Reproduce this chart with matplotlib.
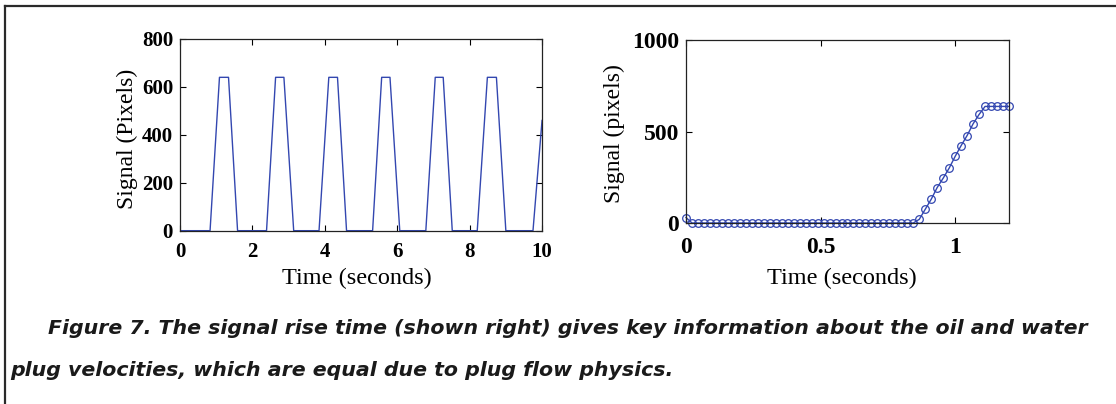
import numpy as np
import matplotlib
matplotlib.use("Agg")
import matplotlib.pyplot as plt
from matplotlib.lines import Line2D

# Left panel: pulse train, breakpoints
pulse_t = [0, 0.83, 1.09, 1.34, 1.59,
           2.39, 2.64, 2.87, 3.14,
           3.84, 4.11, 4.35, 4.60,
           5.32, 5.57, 5.80, 6.07,
           6.79, 7.05, 7.27, 7.52,
           8.21, 8.49, 8.74, 9.00,
           9.75, 10.0]
pulse_v = [0, 0, 640, 640, 0,
           0, 640, 640, 0,
           0, 640, 640, 0,
           0, 640, 640, 0,
           0, 640, 640, 0,
           0, 640, 640, 0,
           0, 460]

# Right panel: one rise, sampled frames
frame_dt = 1 / 45
rise_v = [30] + [0] * 38 + [20, 75, 130, 194, 245, 300, 364, 423, 478, 542, 593] + [637] * 5
rise_t = np.arange(len(rise_v)) * frame_dt

left_xticks = [0, 2, 4, 6, 8, 10]
left_yticks = [0, 200, 400, 600, 800]
right_xticks = [0, 0.5, 1]
right_xticklabels = ["0", "0.5", "1"]
right_yticks = [0, 500, 1000]

caption1 = "Figure 7. The signal rise time (shown right) gives key information about the oil and water"
caption2 = "plug velocities, which are equal due to plug flow physics."

blue = "#3347b0"
serif = "Liberation Serif"

fig = plt.figure(figsize=(11.16, 4.04), dpi=100)

ax1 = fig.add_axes([0.1613, 0.4290, 0.3244, 0.4745])
ax1.plot(pulse_t, pulse_v, color=blue, lw=1.0)
ax1.set_xlim(0, 10)
ax1.set_ylim(0, 800)
ax1.set_xticks(left_xticks)
ax1.set_yticks(left_yticks)
ax1.set_xlabel("Time (seconds)", fontname=serif, fontsize=17.5)
ax1.set_ylabel("Signal (Pixels)", fontname=serif, fontsize=17)
ax1.xaxis.set_label_coords(0.489, -0.195)
ax1.yaxis.set_label_coords(-0.116, 0.481)
ax1.tick_params(labelsize=15)
ax1.tick_params(axis="x", pad=8)
ax1.tick_params(axis="y", pad=5)

ax2 = fig.add_axes([0.6147, 0.4480, 0.2894, 0.4530])
ax2.plot(rise_t, rise_v, color=blue, lw=1.0, marker="o", ms=5.5,
         mfc="none", mec=blue, mew=0.9, clip_on=False)
ax2.set_xlim(0, 1.2)
ax2.set_ylim(0, 1000)
ax2.set_xticks(right_xticks)
ax2.set_xticklabels(right_xticklabels)
ax2.set_yticks(right_yticks)
ax2.set_xlabel("Time (seconds)", fontname=serif, fontsize=17.5)
ax2.set_ylabel("Signal (pixels)", fontname=serif, fontsize=17)
ax2.xaxis.set_label_coords(0.483, -0.246)
ax2.yaxis.set_label_coords(-0.19, 0.489)
ax2.tick_params(labelsize=17)
ax2.tick_params(axis="x", pad=10)
ax2.tick_params(axis="y", pad=5)

for ax in (ax1, ax2):
    ax.tick_params(direction="in", top=True, right=True, length=4, width=0.8)
    for lab in ax.get_xticklabels() + ax.get_yticklabels():
        lab.set_fontname(serif)
        lab.set_fontweight("bold")
    for sp in ax.spines.values():
        sp.set_linewidth(0.9)
        sp.set_color("#222222")

# Figure frame (top and left edges only)
fig.add_artist(Line2D([5 / 1116, 5 / 1116], [0, 1 - 6 / 404], transform=fig.transFigure,
                      color="#2a2a2a", lw=1.6))
fig.add_artist(Line2D([5 / 1116, 1], [1 - 6 / 404, 1 - 6 / 404], transform=fig.transFigure,
                      color="#2a2a2a", lw=1.6))

fig.text(48 / 1116, 1 - 334 / 404, caption1, family="DejaVu Sans", weight="bold", style="italic",
         fontsize=14.75, color="#1a1a1a", va="baseline")
fig.text(10 / 1116, 1 - 376 / 404, caption2, family="DejaVu Sans", weight="bold", style="italic",
         fontsize=14.75, color="#1a1a1a", va="baseline")

fig.savefig("out.png", dpi=100)
